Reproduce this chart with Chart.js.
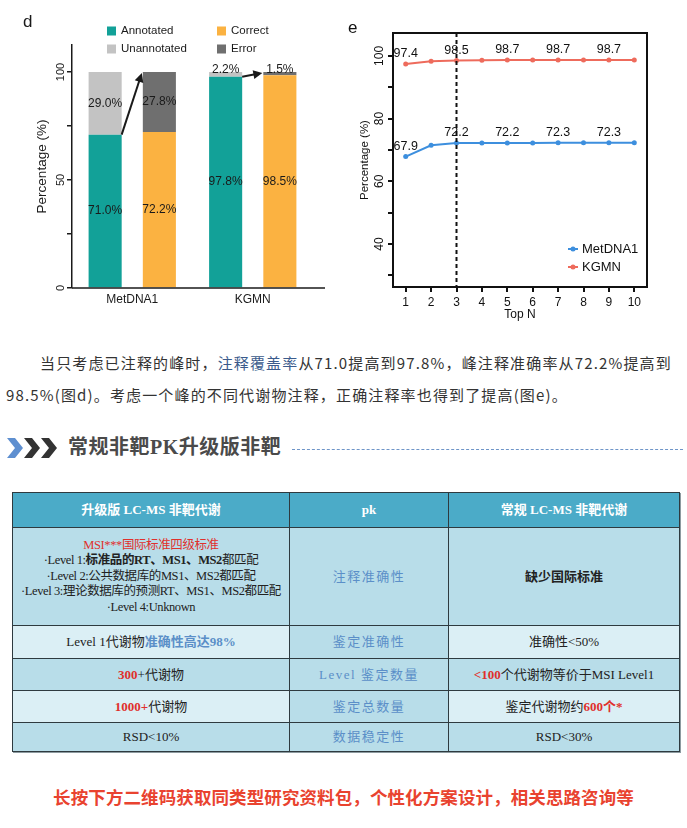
<!DOCTYPE html>
<html>
<head>
<meta charset="utf-8">
<script src="https://cdn.jsdelivr.net/npm/chart.js@4.4.1/dist/chart.umd.min.js"></script>
<style>
  html, body { margin: 0; padding: 0; background: #fff; }
  #page { position: relative; width: 687px; height: 828px; overflow: hidden; }
  #chartD { position: absolute; left: 0; top: 0; }
  #chartE { position: absolute; left: 340px; top: 0; }
  .para { position: absolute; left: 6px; top: 347px; width: 680px; font: 15px/32px "Noto Sans CJK SC", sans-serif;
          color: #333; letter-spacing: 1.15px; white-space: nowrap; }
  .para .hl { color: #3b5b8c; }
  .sect { position: absolute; left: 7px; top: 436px; width: 676px; height: 24px; }
  .sect svg { position: absolute; left: 0; top: 2px; }
  .sect .tt { position: absolute; left: 61px; top: -3px; font: bold 20px/28px "Liberation Serif", "Noto Sans CJK SC", serif;
              color: #4a4a4a; letter-spacing: 0.5px; }
  .sect .dash { position: absolute; left: 285px; right: 0; top: 13px; border-top: 1px dashed #6e95c8; }
  table.cmp { position: absolute; left: 12px; top: 492px; width: 667px; border-collapse: collapse; table-layout: fixed;
              font: 13px/15.5px "Liberation Serif", "Noto Sans CJK SC", serif; color: #222; text-align: center;
              box-shadow: 1px 1px 0 #8d9ba0; }
  table.cmp td, table.cmp th { border: 1px solid #2e3a3f; padding: 0; }
  table.cmp th { background: #4babc8; color: #fff; font-weight: bold; height: 34px; }
  table.cmp td.msi { font-size: 12.5px; letter-spacing: -0.4px; white-space: nowrap; }
  .dk td { background: #b8dde9; }
  .lt td { background: #dbeff5; }
  .lt td.mid { background: #b8dde9; }
  td.mid { color: #5b8fc8; letter-spacing: 1.5px; }
  .red { color: #e0302c; }
  .blue { color: #5b8fc8; }
  .foot { position: absolute; left: 0; width: 687px; top: 784px; text-align: center;
          font: bold 17.5px/26px "Noto Sans CJK SC", sans-serif; color: #e9432f; letter-spacing: 0.1px; }
</style>
</head>
<body>
<div id="page">
  <canvas id="chartD" width="340" height="310"></canvas>
  <canvas id="chartE" width="347" height="322"></canvas>

  <div class="para">
    <div style="padding-left:34px">当只考虑已注释的峰时，<span class="hl">注释覆盖率</span>从71.0提高到97.8%，峰注释准确率从72.2%提高到</div>
    <div>98.5%(图d)。考虑一个峰的不同代谢物注释，正确注释率也得到了提高(图e)。</div>
  </div>

  <div class="sect">
    <svg width="56" height="20" viewBox="0 0 56 20">
      <polygon points="0,0 8,0 16,10 8,20 0,20 8,10" fill="#5e8fd0"/>
      <polygon points="17,0 25,0 33,10 25,20 17,20 25,10" fill="#333"/>
      <polygon points="34,0 42,0 50,10 42,20 34,20 42,10" fill="#333"/>
    </svg>
    <div class="tt">常规非靶PK升级版非靶</div>
    <div class="dash"></div>
  </div>

  <table class="cmp">
    <colgroup><col style="width:277px"><col style="width:159px"><col style="width:231px"></colgroup>
    <tr><th>升级版 LC-MS 非靶代谢</th><th>pk</th><th>常规 LC-MS 非靶代谢</th></tr>
    <tr class="dk" style="height:98px">
      <td class="msi"><span class="red">MSI***国际标准四级标准</span><br>
        ·Level 1:<b>标准品的RT、MS1、MS2</b>都匹配<br>
        ·Level 2:公共数据库的MS1、MS2都匹配<br>
        ·Level 3:理论数据库的预测RT、MS1、MS2都匹配<br>
        ·Level 4:Unknown</td>
      <td class="mid">注释准确性</td>
      <td><b>缺少国际标准</b></td>
    </tr>
    <tr class="lt" style="height:33px">
      <td>Level 1代谢物<b class="blue">准确性高达98%</b></td>
      <td class="mid">鉴定准确性</td>
      <td>准确性&lt;50%</td>
    </tr>
    <tr class="dk" style="height:32px">
      <td><b class="red">300</b>+代谢物</td>
      <td class="mid">Level 鉴定数量</td>
      <td><b class="red">&lt;100</b>个代谢物等价于MSI Level1</td>
    </tr>
    <tr class="lt" style="height:32px">
      <td><b class="red">1000+</b>代谢物</td>
      <td class="mid">鉴定总数量</td>
      <td>鉴定代谢物约<b class="red">600个*</b></td>
    </tr>
    <tr class="dk" style="height:29px">
      <td>RSD&lt;10%</td>
      <td class="mid">数据稳定性</td>
      <td>RSD&lt;30%</td>
    </tr>
  </table>

  <div class="foot">长按下方二维码获取同类型研究资料包，个性化方案设计，相关思路咨询等</div>
</div>

<script>
// chart d data
const groupsD = ['MetDNA1', 'KGMN'];
const annotated = [71.0, 97.8];
const unannotated = [29.0, 2.2];
const correct = [72.2, 98.5];
const errorPct = [27.8, 1.5];
const yTicksD = [0, 25, 50, 75, 100];
const yTickLabelsD = [0, 50, 100];

// chart e data
const topN = [1, 2, 3, 4, 5, 6, 7, 8, 9, 10];
const metdna1 = [67.9, 71.5, 72.2, 72.2, 72.2, 72.2, 72.3, 72.3, 72.3, 72.3];
const kgmn = [97.4, 98.3, 98.5, 98.6, 98.7, 98.7, 98.7, 98.7, 98.7, 98.7];
const labeledPoints = [0, 2, 4, 6, 8];
const yTicksE = [30, 40, 50, 60, 70, 80, 90, 100];
const yTickLabelsE = [40, 60, 80, 100];
const cutoffN = 3;

const FONT = '"Liberation Sans", Arial, sans-serif';
Chart.defaults.font.family = FONT;
Chart.defaults.color = '#1a1a1a';

function rotText(ctx, txt, x, y, size) {
  ctx.save();
  ctx.translate(x, y);
  ctx.rotate(-Math.PI / 2);
  ctx.font = size + 'px ' + FONT;
  ctx.textAlign = 'center';
  ctx.textBaseline = 'middle';
  ctx.fillText(txt, 0, 0);
  ctx.restore();
}

function arrow(ctx, x1, y1, x2, y2) {
  const a = Math.atan2(y2 - y1, x2 - x1);
  ctx.beginPath();
  ctx.moveTo(x1, y1);
  ctx.lineTo(x2 - 6 * Math.cos(a), y2 - 6 * Math.sin(a));
  ctx.stroke();
  ctx.beginPath();
  ctx.moveTo(x2, y2);
  ctx.lineTo(x2 - 9 * Math.cos(a) + 4.5 * Math.sin(a), y2 - 9 * Math.sin(a) - 4.5 * Math.cos(a));
  ctx.lineTo(x2 - 9 * Math.cos(a) - 4.5 * Math.sin(a), y2 - 9 * Math.sin(a) + 4.5 * Math.cos(a));
  ctx.closePath();
  ctx.fill();
}

const extrasD = {
  id: 'extrasD',
  afterDraw(chart) {
    const { ctx, chartArea, scales } = chart;
    ctx.save();
    ctx.fillStyle = '#1a1a1a';
    ctx.strokeStyle = '#1a1a1a';

    // x axis line runs a bit past the last bar
    ctx.lineWidth = 1.5;
    ctx.beginPath();
    ctx.moveTo(chartArea.left, chartArea.bottom);
    ctx.lineTo(chartArea.right + 12, chartArea.bottom);
    ctx.stroke();

    yTickLabelsD.forEach(v => rotText(ctx, String(v), chartArea.left - 11, scales.y.getPixelForValue(v), 11));
    rotText(ctx, 'Percentage (%)', chartArea.left - 30, (chartArea.top + chartArea.bottom) / 2, 13.5);

    ctx.font = '17px ' + FONT;
    ctx.textAlign = 'left';
    ctx.textBaseline = 'alphabetic';
    ctx.fillText('d', 23, 27);

    // legend, one column per stack
    ctx.font = '11.5px ' + FONT;
    ctx.textBaseline = 'middle';
    const rows = {};
    chart.data.datasets.forEach(ds => {
      const col = ds.stack === 'ann' ? 0 : 1;
      const row = rows[ds.stack] = (rows[ds.stack] === undefined ? 0 : rows[ds.stack] + 1);
      const lx = 107 + col * 110, ly = 31 + row * 18;
      ctx.fillStyle = ds.backgroundColor;
      ctx.fillRect(lx, ly - 4.5, 9, 9);
      ctx.fillStyle = '#1a1a1a';
      ctx.fillText(ds.label, lx + 14, ly);
    });

    // value labels
    ctx.font = '12px ' + FONT;
    ctx.textAlign = 'center';
    chart.data.datasets.forEach((ds, di) => {
      chart.getDatasetMeta(di).data.forEach((bar, i) => {
        const v = ds.data[i];
        const ty = v < 5 ? bar.y - 2 : (bar.y + bar.base) / 2;
        ctx.fillText(v.toFixed(1) + '%', bar.x, ty);
      });
    });

    // arrows from annotated top to the correct/error stack top
    ctx.lineWidth = 2;
    const ann = chart.getDatasetMeta(0).data;
    const cor = chart.getDatasetMeta(2).data;
    const err = chart.getDatasetMeta(3).data;
    groupsD.forEach((g, i) => {
      arrow(ctx, ann[i].x + ann[i].width / 2, ann[i].y, cor[i].x - cor[i].width / 2 - 1, err[i].y + 1);
    });
    ctx.restore();
  }
};

new Chart(document.getElementById('chartD'), {
  type: 'bar',
  data: {
    labels: groupsD,
    datasets: [
      { label: 'Annotated', data: annotated, backgroundColor: '#12a198', stack: 'ann' },
      { label: 'Unannotated', data: unannotated, backgroundColor: '#c3c3c3', stack: 'ann' },
      { label: 'Correct', data: correct, backgroundColor: '#fbb241', stack: 'cor' },
      { label: 'Error', data: errorPct, backgroundColor: '#6f6f6f', stack: 'cor' }
    ]
  },
  options: {
    responsive: false,
    animation: false,
    layout: { padding: { top: 45, right: 27, left: 0, bottom: 0 } },
    categoryPercentage: 0.9,
    barPercentage: 0.61,
    plugins: { legend: { display: false }, tooltip: { enabled: false } },
    scales: {
      x: {
        stacked: true,
        grid: { display: false, drawTicks: false },
        border: { display: false },
        ticks: { font: { size: 12 }, color: '#1a1a1a', padding: 4 },
        afterFit: s => { s.height = 22; }
      },
      y: {
        stacked: true,
        min: 0,
        max: 112.5,
        afterBuildTicks: s => { s.ticks = yTicksD.map(v => ({ value: v })); },
        ticks: { display: false },
        grid: { drawOnChartArea: false, drawTicks: true, tickLength: 5, color: '#1a1a1a', lineWidth: 1.5 },
        border: { color: '#1a1a1a', width: 1.5 },
        afterFit: s => { s.width = 72; }
      }
    }
  },
  plugins: [extrasD]
});

const extrasE = {
  id: 'extrasE',
  afterDraw(chart) {
    const { ctx, chartArea, scales } = chart;
    ctx.save();
    ctx.fillStyle = '#111';
    ctx.strokeStyle = '#111';

    ctx.lineWidth = 2;
    ctx.strokeRect(chartArea.left, chartArea.top, chartArea.right - chartArea.left, chartArea.bottom - chartArea.top);

    // Top N cutoff
    const cx = scales.x.getPixelForValue(cutoffN);
    ctx.setLineDash([4, 3]);
    ctx.beginPath();
    ctx.moveTo(cx, chartArea.top);
    ctx.lineTo(cx, chartArea.bottom);
    ctx.stroke();
    ctx.setLineDash([]);

    yTickLabelsE.forEach(v => rotText(ctx, String(v), chartArea.left - 13, scales.y.getPixelForValue(v), 12));
    rotText(ctx, 'Percentage (%)', chartArea.left - 28, (chartArea.top + chartArea.bottom) / 2, 11.5);

    ctx.font = '17px ' + FONT;
    ctx.textAlign = 'left';
    ctx.textBaseline = 'alphabetic';
    ctx.fillText('e', 8, 33);

    // point labels
    ctx.font = '12.5px ' + FONT;
    ctx.textAlign = 'center';
    ctx.textBaseline = 'bottom';
    chart.data.datasets.forEach((ds, di) => {
      const pts = chart.getDatasetMeta(di).data;
      labeledPoints.forEach(i => ctx.fillText(ds.data[i].y.toFixed(1), pts[i].x, pts[i].y - 4));
    });

    // legend
    ctx.font = '13px ' + FONT;
    ctx.textAlign = 'left';
    ctx.textBaseline = 'middle';
    chart.data.datasets.forEach((ds, di) => {
      const lx = 228, ly = 249 + di * 18;
      ctx.strokeStyle = ds.borderColor;
      ctx.fillStyle = ds.borderColor;
      ctx.lineWidth = 2;
      ctx.beginPath();
      ctx.moveTo(lx, ly);
      ctx.lineTo(lx + 10, ly);
      ctx.stroke();
      ctx.beginPath();
      ctx.arc(lx + 5, ly, 2.5, 0, Math.PI * 2);
      ctx.fill();
      ctx.fillStyle = '#111';
      ctx.fillText(ds.label, lx + 14, ly);
    });
    ctx.restore();
  }
};

new Chart(document.getElementById('chartE'), {
  type: 'line',
  data: {
    datasets: [
      { label: 'MetDNA1', data: topN.map((n, i) => ({ x: n, y: metdna1[i] })), borderColor: '#3d8fde',
        backgroundColor: '#3d8fde', pointBackgroundColor: '#3d8fde', borderWidth: 2, pointRadius: 2.5, pointBorderWidth: 0 },
      { label: 'KGMN', data: topN.map((n, i) => ({ x: n, y: kgmn[i] })), borderColor: '#ee6b5c',
        backgroundColor: '#ee6b5c', pointBackgroundColor: '#ee6b5c', borderWidth: 2, pointRadius: 2.5, pointBorderWidth: 0 }
    ]
  },
  options: {
    responsive: false,
    animation: false,
    layout: { padding: { top: 33, right: 40, left: 0, bottom: 0 } },
    plugins: { legend: { display: false }, tooltip: { enabled: false } },
    scales: {
      x: {
        type: 'linear',
        min: 0.5,
        max: 10.5,
        afterBuildTicks: s => { s.ticks = topN.map(v => ({ value: v })); },
        ticks: { font: { size: 12 }, color: '#111', padding: 3 },
        grid: { drawOnChartArea: false, drawTicks: true, tickLength: 5, color: '#111', lineWidth: 2 },
        border: { color: '#111', width: 2 },
        title: { display: true, text: 'Top N', font: { size: 12 }, color: '#111', padding: { top: 0, bottom: 0 } },
        afterFit: s => { s.height = 35; }
      },
      y: {
        min: 26.3,
        max: 107.3,
        afterBuildTicks: s => { s.ticks = yTicksE.map(v => ({ value: v })); },
        ticks: { display: false },
        grid: { drawOnChartArea: false, drawTicks: true, tickLength: 5, color: '#111', lineWidth: 2 },
        border: { color: '#111', width: 2 },
        afterFit: s => { s.width = 53; }
      }
    }
  },
  plugins: [extrasE]
});
</script>
</body>
</html>
